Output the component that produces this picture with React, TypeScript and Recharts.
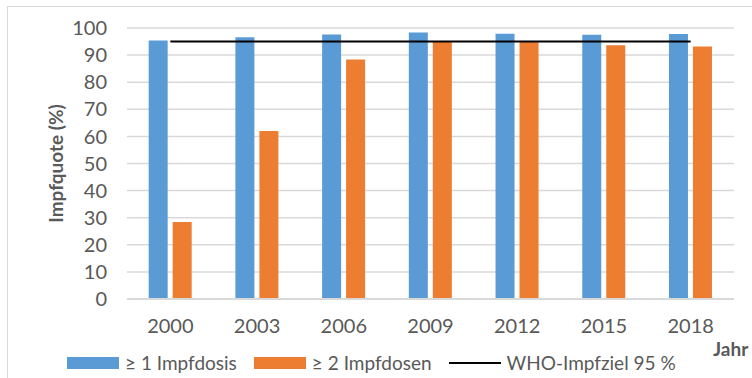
import {
  Bar,
  CartesianGrid,
  ComposedChart,
  Label,
  Line,
  XAxis,
  YAxis,
} from 'recharts'

const years = ['2000', '2003', '2006', '2009', '2012', '2015', '2018']
const oneDose = [95.4, 96.6, 97.6, 98.3, 97.9, 97.5, 97.8]
const twoDoses = [28.4, 62.0, 88.4, 94.9, 94.8, 93.6, 93.2]
const whoTarget = [95, 95, 95, 95, 95, 95, 95]
const yTicks = [0, 10, 20, 30, 40, 50, 60, 70, 80, 90, 100]

const data = years.map((year, i) => ({
  year,
  one: oneDose[i],
  two: twoDoses[i],
  who: whoTarget[i],
}))

const FONT = 'Lato, "Liberation Sans", sans-serif'
const BLUE = '#5B9BD5'
const ORANGE = '#ED7D31'
const GRID = '#d9d9d9'
const TEXT = '#595959'

const legendItems = [
  { label: '≥ 1 Impfdosis', color: BLUE, type: 'rect' },
  { label: '≥ 2 Impfdosen', color: ORANGE, type: 'rect' },
  { label: 'WHO-Impfziel 95 %', color: '#000', type: 'line' },
]

function ChartLegend() {
  return (
    <div
      style={{
        position: 'absolute',
        left: 67,
        top: 351,
        display: 'flex',
        alignItems: 'center',
        fontFamily: FONT,
        fontSize: 19,
        color: TEXT,
      }}
    >
      {legendItems.map((item) => (
        <div key={item.label} style={{ display: 'flex', alignItems: 'center', marginRight: 17 }}>
          <div style={{ width: 52, height: item.type === 'rect' ? 12 : 2, background: item.color }} />
          <span style={{ marginLeft: 6, whiteSpace: 'nowrap' }}>{item.label}</span>
        </div>
      ))}
    </div>
  )
}

function YLabel({ viewBox }: any) {
  const x = viewBox.x + 25
  const y = viewBox.y + viewBox.height / 2
  return (
    <text
      x={x}
      y={y}
      transform={`rotate(-90, ${x}, ${y})`}
      textAnchor="middle"
      dominantBaseline="central"
      fontFamily={FONT}
      fontSize={19}
      fontWeight="bold"
      fill={TEXT}
    >
      Impfquote (%)
    </text>
  )
}

function XLabel({ viewBox }: any) {
  return (
    <text
      x={viewBox.x + viewBox.width - 21}
      y={viewBox.y + 57}
      fontFamily={FONT}
      fontSize={19}
      fontWeight="bold"
      fill={TEXT}
    >
      Jahr
    </text>
  )
}

export default function App() {
  return (
    <div style={{ position: 'absolute', left: 0, top: 0, width: 752, height: 378, overflow: 'hidden', background: '#fff' }}>
      <div
        style={{
          position: 'absolute',
          left: 7,
          top: 6,
          width: 800,
          height: 420,
          border: `1.5px solid ${GRID}`,
          boxSizing: 'border-box',
        }}
      />
      <ComposedChart
        width={752}
        height={378}
        data={data}
        margin={{ top: 28, right: 18, left: 30, bottom: 49 }}
        barCategoryGap="25%"
        barGap={5}
        style={{ position: 'absolute', left: 0, top: 0 }}
      >
        <CartesianGrid vertical={false} stroke={GRID} strokeWidth={1.5} />
        <XAxis
          dataKey="year"
          height={30}
          interval={0}
          axisLine={{ stroke: GRID, strokeWidth: 2 }}
          tickLine={false}
          tick={{ fontFamily: FONT, fontSize: 20, fill: TEXT }}
          tickMargin={14}
        >
          <Label content={<XLabel />} />
        </XAxis>
        <YAxis
          domain={[0, 100]}
          ticks={yTicks}
          interval={0}
          width={97}
          axisLine={false}
          tickLine={false}
          tick={{ fontFamily: FONT, fontSize: 20, fill: TEXT }}
          tickMargin={14}
        >
          <Label content={<YLabel />} />
        </YAxis>
        <Bar dataKey="one" name="≥ 1 Impfdosis" fill={BLUE} isAnimationActive={false} />
        <Bar dataKey="two" name="≥ 2 Impfdosen" fill={ORANGE} isAnimationActive={false} />
        <Line
          dataKey="who"
          name="WHO-Impfziel 95 %"
          type="linear"
          stroke="#000"
          strokeWidth={2}
          dot={false}
          activeDot={false}
          isAnimationActive={false}
        />
      </ComposedChart>
      <ChartLegend />
    </div>
  )
}
